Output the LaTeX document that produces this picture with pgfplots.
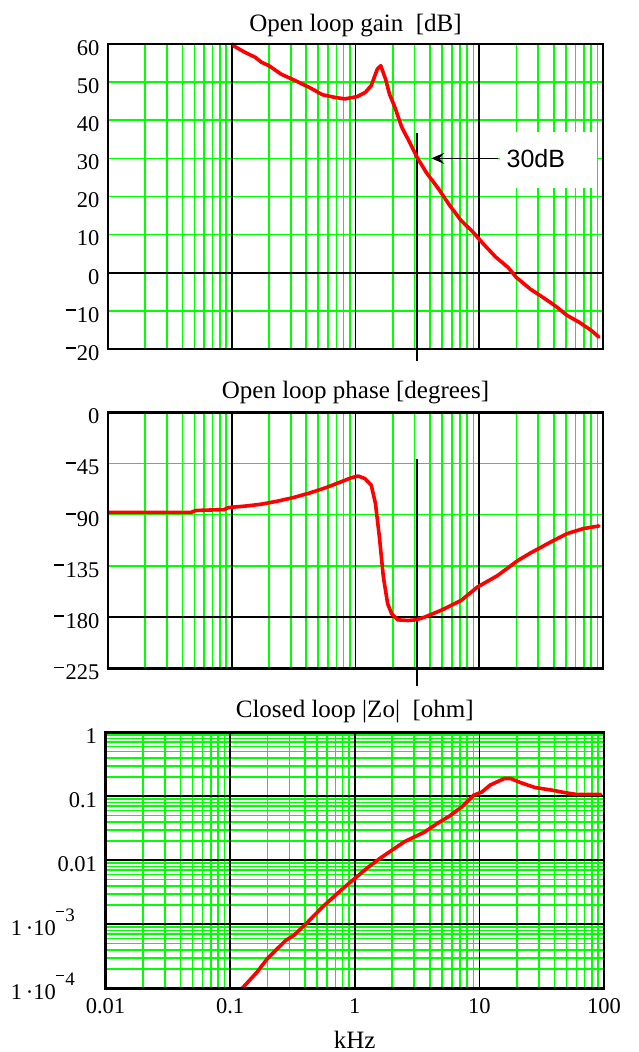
\documentclass[border=0pt]{standalone}
\usepackage{fontspec}
\setmainfont{Liberation Serif}
\newfontfamily\sansf{Liberation Sans}
\usepackage{pgfplots}
\pgfplotsset{compat=1.18}
\usetikzlibrary{arrows.meta}
\definecolor{gridgreen}{RGB}{0,255,0}
\definecolor{curvered}{RGB}{255,0,0}
\newcommand{\nm}{\rule[0.5em]{0.45em}{0.08em}\kern0.06em}
\newcommand{\ticksize}{\fontsize{22.5bp}{22.5bp}\selectfont}
\newcommand{\titlesize}{\fontsize{25bp}{25bp}\selectfont}
\newcommand{\sexp}[1]{1\,·10\raisebox{0.62em}[0pt][0pt]{\fontsize{19bp}{19bp}\selectfont\nm#1}\rule{22bp}{0pt}}
\pgfplotsset{
  every axis/.append style={
    scale only axis, width=495bp,
    xtick={0.01,0.1,1,10,100},
    xminorgrids=false, xmajorgrids=false, ymajorgrids=false, yminorgrids=false,
    major tick length=0pt, minor tick length=0pt,
    axis line style={black, line width=2.5bp},
    axis on top,
    tick label style={font=\ticksize},
    xticklabel style={yshift=-7bp},
    yticklabel style={xshift=-5bp, yshift=-4bp},
    clip=false,
  },
}
\tikzset{
  redcurve/.style={curvered, line width=3.6bp, line join=round, line cap=round, no marks},
  gg/.style={gridgreen, line width=1.6bp},
  gb/.style={black, line width=1.7bp},
}
\begin{document}
\begin{tikzpicture}
\path[use as bounding box] (-105.5bp,-63.7bp) rectangle (533.5bp,988.3bp);
% ---------------- gain
\begin{axis}[xmode=log, xmin=0.01, xmax=100, at={(2.5bp,639.3bp)}, height=305bp,
  ymin=-20, ymax=60, ytick={-20,-10,...,60},
  yticklabels={\nm20,\nm10,0,10,20,30,40,50,60}, xticklabels={}]
\pgfplotsinvokeforeach{-10,10,20,30,40,50}{\draw[gg] (axis cs:0.01,#1) -- (axis cs:100,#1);}
\pgfplotsinvokeforeach{0.02,0.03,0.04,0.05,0.06,0.07,0.08,0.09,0.2,0.3,0.4,0.5,0.6,0.7,0.8,0.9,2,3,4,5,6,7,8,9,20,30,40,50,60,70,80,90}{\draw[gg] (axis cs:#1,-20) -- (axis cs:#1,60);}
\pgfplotsinvokeforeach{0.1,1,10}{\draw[gb] (axis cs:#1,-20) -- (axis cs:#1,60);}
\draw[gb] (axis cs:0.01,0) -- (axis cs:100,0);
\fill[white] (axis cs:14.7,22.3) rectangle (axis cs:89.5,36.8);
\draw[black, line width=1.5bp, -{Stealth[length=13bp,width=11bp,inset=5bp]}] (axis cs:14.3,30) -- (axis cs:4.1,30);
\node[anchor=west, font=\sansf\fontsize{25bp}{25bp}\selectfont, inner sep=0pt] at (axis cs:16.6,30) {30dB};
\draw[black, line width=2.2bp] (axis cs:3.14,36.6) -- ([yshift=-12bp]axis cs:3.14,-20);
\node[font=\titlesize, anchor=base] at ([yshift=12bp]rel axis cs:0.5,1) {Open loop gain\ \ [dB]};
\addplot[redcurve] coordinates {
(0.102,60) (0.105,59.4) (0.128,57.8) (0.155,56.5) (0.174,55.2) (0.2,54.3)
(0.25,52.1) (0.316,50.6) (0.43,48.5) (0.54,46.7) (0.68,46.0) (0.82,45.6)
(1.03,46.2) (1.2,47.3) (1.34,49.1) (1.5,53.4) (1.6,54.3) (1.75,50.8)
(1.88,46.9) (2.08,43.4) (2.37,38.1) (2.65,35.1) (3.14,30.3) (3.73,26.3)
(4.69,22.0) (5.67,18.0) (7.13,13.7) (8.94,10.6) (10.8,7.55) (13.6,4.1)
(17.1,1.4) (19.9,-1.2) (25.9,-4.3) (32.5,-6.4) (40.8,-8.6) (51.3,-11.2)
(64.4,-13.0) (80.9,-15.2) (92.7,-16.9)};
\end{axis}
% ---------------- phase
\begin{axis}[xmode=log, xmin=0.01, xmax=100, at={(2.5bp,320bp)}, height=256bp,
  ymin=-225, ymax=0, ytick={-225,-180,-135,-90,-45,0},
  yticklabels={\nm225,\nm180,\nm135,\nm90,\nm45,0}, xticklabels={}]
\pgfplotsinvokeforeach{-45,-90,-135}{\draw[gg] (axis cs:0.01,#1) -- (axis cs:100,#1);}
\pgfplotsinvokeforeach{0.02,0.03,0.04,0.05,0.06,0.07,0.08,0.09,0.2,0.3,0.4,0.5,0.6,0.7,0.8,0.9,2,3,4,5,6,7,8,9,20,30,40,50,60,70,80,90}{\draw[gg] (axis cs:#1,-225) -- (axis cs:#1,0);}
\pgfplotsinvokeforeach{0.1,1,10}{\draw[gb] (axis cs:#1,-225) -- (axis cs:#1,0);}
\draw[gb] (axis cs:0.01,-180) -- (axis cs:100,-180);
\draw[black, line width=2.2bp] (axis cs:3.14,-41.4) -- ([yshift=-18bp]axis cs:3.14,-225);
\node[font=\titlesize, anchor=base] at ([yshift=14bp]rel axis cs:0.5,1) {Open loop phase [degrees]};
\addplot[redcurve] coordinates {
(0.0102,-88) (0.047,-88) (0.051,-86.3) (0.087,-85.5) (0.094,-83.7)
(0.127,-82.5) (0.173,-80.8) (0.234,-78.1) (0.316,-74.9) (0.43,-70.8)
(0.58,-66.1) (0.79,-60.5) (0.92,-57.6) (1.05,-56) (1.19,-58.2) (1.34,-64)
(1.45,-80.2) (1.56,-109.6) (1.68,-144.8) (1.82,-168.3) (1.96,-177.1)
(2.19,-182.4) (2.65,-183) (3.09,-182.4) (3.6,-180.1) (4.88,-174.2)
(7.13,-165.4) (9.66,-153.6) (14.1,-143.4) (20.6,-130.1) (25.9,-123.7)
(37.8,-114) (51.3,-106.6) (69.5,-102.2) (92.7,-99.9)};
\end{axis}
% ---------------- Zo
\begin{axis}[xmode=log, xmin=0.01, xmax=100, at={(0bp,0bp)}, width=498.5bp, height=256bp,
  ymode=log, ymin=1e-4, ymax=1,
  ytick={1e-4,1e-3,0.01,0.1,1},
  yticklabels={\sexp{4},\sexp{3},0.01,0.1,1},
  xticklabels={0.01,0.1,1,10,100}]
\pgfplotsinvokeforeach{2e-4,3e-4,4e-4,5e-4,6e-4,7e-4,8e-4,9e-4,2e-3,3e-3,4e-3,5e-3,6e-3,7e-3,8e-3,9e-3,0.02,0.03,0.04,0.05,0.06,0.07,0.08,0.09,0.2,0.3,0.4,0.5,0.6,0.7,0.8,0.9}{\draw[gg] (axis cs:0.01,#1) -- (axis cs:100,#1);}
\pgfplotsinvokeforeach{0.02,0.03,0.04,0.05,0.06,0.07,0.08,0.09,0.2,0.3,0.4,0.5,0.6,0.7,0.8,0.9,2,3,4,5,6,7,8,9,20,30,40,50,60,70,80,90}{\draw[gg] (axis cs:#1,1e-4) -- (axis cs:#1,1);}
\pgfplotsinvokeforeach{0.1,1,10}{\draw[gb] (axis cs:#1,1e-4) -- (axis cs:#1,1);}
\pgfplotsinvokeforeach{1e-3,0.01,0.1}{\draw[gb] (axis cs:0.01,#1) -- (axis cs:100,#1);}
\node[font=\titlesize, anchor=base] at ([yshift=15bp]rel axis cs:0.5,1) {Closed loop |Zo|\ \ [ohm]};
\node[font=\titlesize, anchor=base] at ([yshift=-60bp]rel axis cs:0.5,0) {kHz};
\addplot[redcurve] coordinates {
(0.125,1e-4) (0.129,1.07e-4) (0.164,1.78e-4) (0.198,2.88e-4) (0.279,5.6e-4)
(0.324,6.7e-4) (0.407,1.02e-3) (0.55,1.86e-3) (0.80,3.6e-3) (1.0,5.2e-3)
(1.26,7.6e-3) (1.58,0.0106) (1.99,0.0144) (2.5,0.0195) (3.65,0.0278)
(4.57,0.0375) (5.74,0.049) (7.2,0.068) (9.0,0.104) (10.5,0.117)
(12.2,0.15) (15.9,0.19) (17.8,0.19) (21.5,0.163) (28,0.137) (38,0.125)
(47.6,0.115) (59.8,0.107) (94.2,0.107)};
\end{axis}
\end{tikzpicture}
\end{document}
